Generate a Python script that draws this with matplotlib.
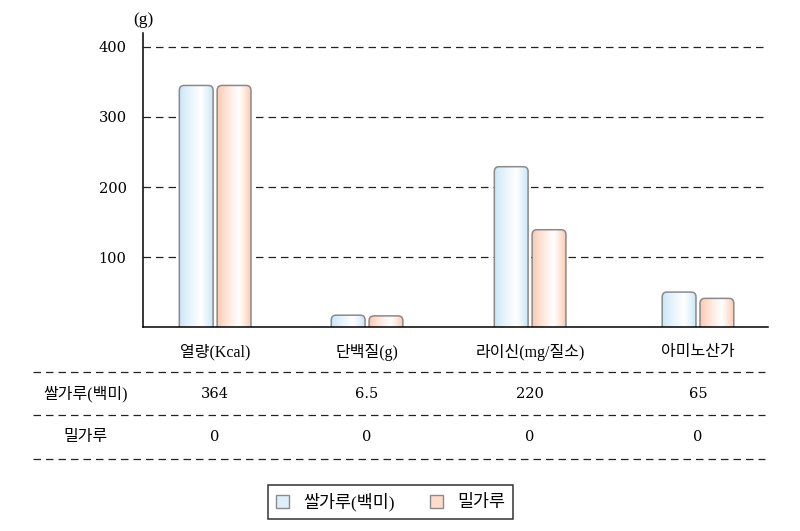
import matplotlib.pyplot as plt
import numpy as np
from matplotlib.patches import FancyBboxPatch, Patch
from matplotlib.lines import Line2D
from matplotlib.colors import to_rgb

plt.rcParams['font.family'] = ['Liberation Serif', 'Noto Sans CJK KR']
num_font = ['DejaVu Serif']

categories = ['열량(Kcal)', '단백질(g)', '라이신(mg/질소)', '아미노산가']
series_names = ['쌀가루(백미)', '밀가루']
rice_bars = [345, 17, 229, 50]
wheat_bars = [345, 16, 139, 41]
rice_table = ['364', '6.5', '220', '65']
wheat_table = ['0', '0', '0', '0']
yticks = [100, 200, 300, 400]

# group centres along the x axis (layout)
x = np.array([0, 0.944, 1.957, 3.0])

edge_colors = ['#c6e5f8', '#fbc6ab']
legend_colors = ['#dcf0fb', '#fddccb']

fig = plt.figure(figsize=(8, 5.31), dpi=100)
ax = fig.add_axes([0.179, 0.384, 0.781, 0.554])

xmin, xmax = -0.447, 3.435
ymin, ymax = 0, 420
w = 0.21
gap = 0.025


def gradient(color):
    c = np.array(to_rgb(color))
    white = np.ones(3)
    t = np.linspace(0, 1, 100)
    f = np.where(t < 0.65, t / 0.65, 1 - (t - 0.65) / 0.35)
    f = f ** 0.8
    return (c[None, :] * (1 - f[:, None]) + white[None, :] * f[:, None])[None, :, :]


# pixel scale for the rounded corners
ax_w_px = 0.781 * 800
ax_h_px = 0.554 * 531
aspect = (ax_w_px / (xmax - xmin)) / (ax_h_px / (ymax - ymin))

for vals, off, col in [(rice_bars, -(w + gap) / 2, edge_colors[0]),
                       (wheat_bars, (w + gap) / 2, edge_colors[1])]:
    bars = ax.bar(x + off, vals, w, color='none', edgecolor='none')
    img = gradient(col)
    for b in bars:
        x0, bw, h = b.get_x(), b.get_width(), b.get_height()
        patch = FancyBboxPatch((x0, -20), bw, h + 20,
                               boxstyle='round,pad=0,rounding_size=0.03',
                               mutation_aspect=aspect,
                               facecolor='none', edgecolor='#8a8a8a',
                               linewidth=1.1, zorder=3)
        ax.add_patch(patch)
        im = ax.imshow(img, extent=(x0, x0 + bw, 0, h), aspect='auto',
                       zorder=2.9, interpolation='bilinear')
        im.set_clip_path(patch)

ax.set_xlim(xmin, xmax)
ax.set_ylim(ymin, ymax)
ax.set_xticks([])
ax.set_yticks(yticks)
ax.tick_params(axis='y', length=0, pad=12)
for lab in ax.get_yticklabels():
    lab.set_family(num_font)
    lab.set_fontsize(10.5)
ax.yaxis.grid(True, linestyle=(0, (6, 4)), color='#222222', linewidth=0.9)
ax.set_axisbelow(True)
for s in ['top', 'right']:
    ax.spines[s].set_visible(False)
for s in ['left', 'bottom']:
    ax.spines[s].set_linewidth(1.1)
    ax.spines[s].set_zorder(4)

ax.text(0.0, 1.045, '(g)', transform=ax.transAxes, ha='center',
        va='center', fontsize=12.5)

# table below the axes
tr = ax.get_xaxis_transform()
row_x = -0.807
for i, c in enumerate(categories):
    ax.text(x[i], -0.085, c, transform=tr, ha='center', va='center',
            fontsize=11.5, clip_on=False)
    ax.text(x[i], -0.228, rice_table[i], transform=tr, ha='center',
            va='center', fontsize=10.5, family=num_font, clip_on=False)
    ax.text(x[i], -0.374, wheat_table[i], transform=tr, ha='center',
            va='center', fontsize=10.5, family=num_font, clip_on=False)
ax.text(row_x, -0.228, series_names[0], transform=tr, ha='center',
        va='center', fontsize=11.5, clip_on=False)
ax.text(row_x, -0.374, series_names[1], transform=tr, ha='center',
        va='center', fontsize=11.5, clip_on=False)
for yy in [-0.153, -0.299, -0.449]:
    ax.add_line(Line2D([-1.13, 3.416], [yy, yy], transform=tr,
                       linestyle=(0, (6, 4)), color='#222222',
                       linewidth=0.9, clip_on=False))

handles = [Patch(facecolor=legend_colors[0], edgecolor='#8a8a8a'),
           Patch(facecolor=legend_colors[1], edgecolor='#8a8a8a')]
leg = fig.legend(handles, series_names, loc='center',
                 bbox_to_anchor=(0.488, 0.0546), ncol=2, frameon=True,
                 fancybox=False, edgecolor='black', handlelength=0.8,
                 handleheight=0.8, columnspacing=2.0, fontsize=12.5,
                 borderpad=0.45, handletextpad=0.8)
leg.get_frame().set_linewidth(1.1)

fig.savefig('out.png', dpi=100)
